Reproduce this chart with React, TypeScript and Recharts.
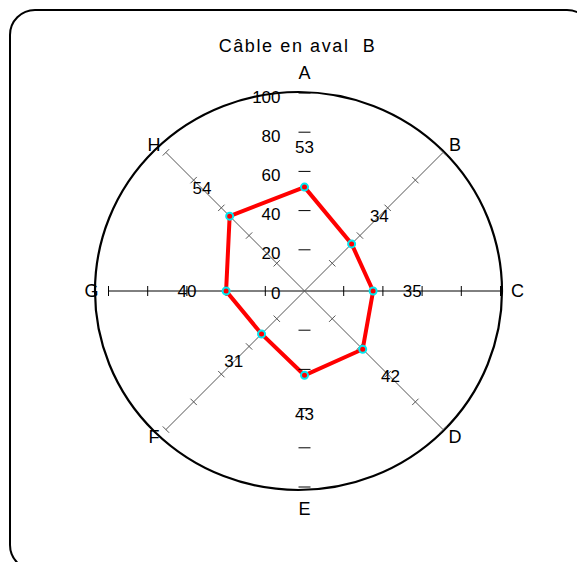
import { RadarChart, Radar, PolarAngleAxis, PolarRadiusAxis } from "recharts";

const directions = ["A", "B", "C", "D", "E", "F", "G", "H"];
const values = [53, 34, 35, 42, 43, 31, 40, 54];
const scaleTicks = [0, 20, 40, 60, 80, 100];

const data = directions.map((dir, i) => ({ dir, value: values[i] }));

const W = 577;
const H = 562;
const CX = 304.5;
const CY = 291;
const R = 196;
const FONT = '"Liberation Sans", Arial, sans-serif';

// each spoke drawn as its own radius axis
const spokes = [
  { id: 0, angle: 90, line: false, color: "#000", half: 6, text: true },
  { id: 1, angle: 270, line: false, color: "#000", half: 6, text: false },
  { id: 2, angle: 0, line: true, color: "#000", half: 5, text: false },
  { id: 3, angle: 180, line: true, color: "#000", half: 5, text: false },
  { id: 4, angle: 45, line: true, color: "#555", half: 4.5, text: false },
  { id: 5, angle: 135, line: true, color: "#555", half: 4.5, text: false },
  { id: 6, angle: 225, line: true, color: "#555", half: 4.5, text: false },
  { id: 7, angle: 315, line: true, color: "#555", half: 4.5, text: false },
];

const makeTick = (angle: number, half: number, color: string, text: boolean) => (p: any) => {
  const v = p.payload.value;
  const rad = (angle * Math.PI) / 180;
  const px = Math.sin(rad) * half;
  const py = Math.cos(rad) * half;
  const lift = text ? 2 : 0;
  return (
    <g>
      {v !== 0 && (
        <line x1={p.x - px} y1={p.y - py - lift} x2={p.x + px} y2={p.y + py - lift} stroke={color} strokeWidth={1} />
      )}
      {text && (
        <text x={p.x - 24} y={p.y + 2} textAnchor="end" dominantBaseline="central" fontSize={17} fontFamily={FONT} fill="#000">
          {v}
        </text>
      )}
    </g>
  );
};

// direction letters just outside the end of each spoke
const DirTick = (p: any) => {
  const dx = p.x - CX;
  const dy = p.y - CY;
  const len = Math.hypot(dx, dy) || 1;
  const ux = dx / len;
  const uy = dy / len;
  return (
    <text
      x={CX + ux * (R + 17)}
      y={CY + uy * R + uy * uy * uy * 22}
      textAnchor="middle"
      dominantBaseline="central"
      fontSize={18}
      fontFamily={FONT}
      fill="#000"
    >
      {p.payload.value}
    </text>
  );
};

const ValueDot = (p: any) => {
  const dx = p.cx - CX;
  const dy = p.cy - CY;
  const len = Math.hypot(dx, dy) || 1;
  const off = (20 * R) / 100;
  return (
    <g key={`dot-${p.index}`}>
      <circle cx={p.cx} cy={p.cy} r={3.5} fill="#ff0000" stroke="#00e8f0" strokeWidth={2} />
      <text
        x={p.cx + (dx / len) * off}
        y={p.cy + (dy / len) * off}
        textAnchor="middle"
        dominantBaseline="central"
        fontSize={17}
        fontFamily={FONT}
        fill="#000"
      >
        {values[p.index]}
      </text>
    </g>
  );
};

export default function App() {
  return (
    <div style={{ position: "absolute", left: 0, top: 0, width: W, height: H, overflow: "hidden", background: "#fff" }}>
      <div
        style={{
          position: "absolute",
          left: 9,
          top: 9,
          width: 580,
          height: 558,
          border: "2px solid #000",
          borderRadius: 26,
        }}
      />
      <svg width={W} height={H} style={{ position: "absolute", left: 0, top: 0 }}>
        <ellipse cx={298.5} cy={291} rx={203.5} ry={199} fill="none" stroke="#000" strokeWidth={2.2} />
        <text
          x={297.5}
          y={52}
          textAnchor="middle"
          fontSize={18}
          letterSpacing={1.6}
          fontFamily={FONT}
          fill="#000"
          style={{ whiteSpace: "pre" }}
        >
          {"Câble en aval  B"}
        </text>
      </svg>
      <div style={{ position: "absolute", left: 0, top: 0 }}>
        <RadarChart
          width={W}
          height={H}
          data={data}
          cx={CX}
          cy={CY}
          outerRadius={R}
          margin={{ top: 0, right: 0, bottom: 0, left: 0 }}
        >
          <PolarAngleAxis dataKey="dir" tick={DirTick} tickLine={false} axisLine={false} tickSize={17} />
          {spokes.map((s) => (
            <PolarRadiusAxis
              key={s.id}
              radiusAxisId={s.id}
              angle={s.angle}
              type="number"
              domain={[0, 100]}
              ticks={scaleTicks}
              axisLine={s.line ? { stroke: s.color, strokeWidth: 1 } : false}
              tick={makeTick(s.angle, s.half, s.color, s.text)}
              tickLine={false}
            />
          ))}
          {/* hidden series so that every spoke axis gets built */}
          {spokes.slice(1).map((s) => (
            <Radar
              key={`h${s.id}`}
              radiusAxisId={s.id}
              dataKey="value"
              stroke="none"
              fill="none"
              fillOpacity={0}
              dot={false}
              isAnimationActive={false}
            />
          ))}
          <Radar
            dataKey="value"
            stroke="#ff0000"
            strokeWidth={4}
            fill="none"
            fillOpacity={0}
            dot={ValueDot}
            isAnimationActive={false}
          />
        </RadarChart>
      </div>
    </div>
  );
}
